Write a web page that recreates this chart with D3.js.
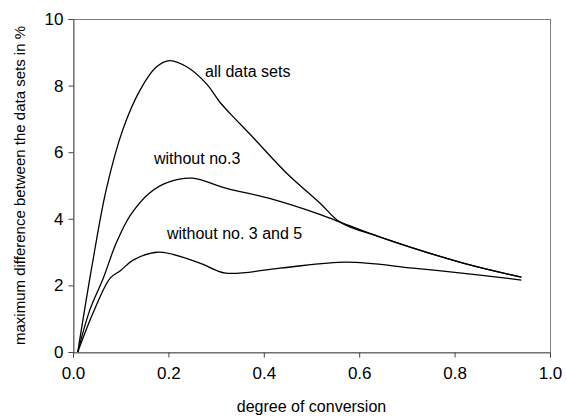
<!DOCTYPE html>
<html>
<head>
<meta charset="utf-8">
<script src="https://cdn.jsdelivr.net/npm/d3@7"></script>
<style>
  body { margin: 0; background: #fff; }
  text { font-family: "Liberation Sans", Arial, sans-serif; fill: #000; }
  .frame { stroke: #808080; fill: none; }
  .curve { fill: none; stroke: #000; stroke-width: 1.3; }
</style>
</head>
<body>
<script>
//chart values
var xAll = [0.01, 0.04, 0.07, 0.105, 0.14, 0.174, 0.203, 0.24, 0.28, 0.308, 0.33, 0.377, 0.448, 0.518, 0.56, 0.644, 0.818, 0.94];
var yAll = [0, 2.6, 4.9, 6.7, 7.85, 8.55, 8.75, 8.55, 8.05, 7.5, 7.15, 6.45, 5.37, 4.47, 3.9, 3.45, 2.67, 2.25];

var xNo3 = [0.01, 0.035, 0.063, 0.09, 0.12, 0.16, 0.2, 0.25, 0.32, 0.41, 0.52, 0.56, 0.644, 0.818, 0.94];
var yNo3 = [0, 1.25, 2.2, 3.25, 4.1, 4.77, 5.1, 5.22, 4.92, 4.62, 4.12, 3.9, 3.45, 2.67, 2.25];

var xNo35 = [0.01, 0.042, 0.078, 0.1, 0.126, 0.18, 0.266, 0.32, 0.434, 0.574, 0.713, 0.853, 0.94];
var yNo35 = [0, 1.17, 2.22, 2.45, 2.76, 3.0, 2.67, 2.37, 2.52, 2.7, 2.52, 2.31, 2.16];

var xTicks = [0, 0.2, 0.4, 0.6, 0.8, 1.0];
var yTicks = [0, 2, 4, 6, 8, 10];

var seriesLabels = ["all data sets", "without no.3", "without no. 3 and 5"];

//frame dimensions
var width = 566,
    height = 417;

var svg = d3.select("body")
    .append("svg")
    .attr("width", width)
    .attr("height", height);

var plotLeft = 73, plotRight = 550, plotTop = 19, plotBottom = 352;

var x = d3.scaleLinear().domain([0, 1]).range([plotLeft, plotRight]);
var y = d3.scaleLinear().domain([0, 10]).range([plotBottom, plotTop]);

//box round the plot
svg.append("rect")
    .attr("class", "frame")
    .attr("x", plotLeft + 0.5)
    .attr("y", plotTop + 0.5)
    .attr("width", plotRight - plotLeft)
    .attr("height", plotBottom - plotTop);

//x axis
var xAxis = svg.append("g")
    .attr("transform", "translate(0," + (plotBottom + 0.5) + ")")
    .call(d3.axisBottom(x).tickValues(xTicks).tickFormat(d3.format(".1f")).tickSize(5).tickPadding(9));

//y axis
var yAxis = svg.append("g")
    .attr("transform", "translate(" + (plotLeft + 0.5) + ",0)")
    .call(d3.axisLeft(y).tickValues(yTicks).tickFormat(d3.format("d")).tickSize(5).tickPadding(5));

[xAxis, yAxis].forEach(function(g){
    g.select(".domain").attr("stroke", "#666");
    g.selectAll(".tick line").attr("stroke", "#444");
    g.selectAll(".tick text")
        .style("font-size", "17px")
        .style("font-family", "'Liberation Sans', Arial, sans-serif")
        .attr("fill", "#000");
});

//axis titles
svg.append("text")
    .attr("x", (plotLeft + plotRight) / 2)
    .attr("y", 412)
    .attr("text-anchor", "middle")
    .style("font-size", "16px")
    .text("degree of conversion");

svg.append("text")
    .attr("transform", "translate(25," + ((plotTop + plotBottom) / 2) + ") rotate(-90)")
    .attr("text-anchor", "middle")
    .style("font-size", "15px")
    .text("maximum difference between the data sets in %");

//curves
var line = d3.line()
    .x(function(d){ return x(d[0]); })
    .y(function(d){ return y(d[1]); })
    .curve(d3.curveCatmullRom.alpha(0.5));

var series = [
    d3.zip(xAll, yAll),
    d3.zip(xNo3, yNo3),
    d3.zip(xNo35, yNo35)
];

svg.selectAll(".curve")
    .data(series)
    .enter()
    .append("path")
    .attr("class", "curve")
    .attr("d", line);

//curve labels
var labelPos = [[205, 77], [154, 164], [167, 239]];

svg.selectAll(".lbl")
    .data(seriesLabels)
    .enter()
    .append("text")
    .attr("class", "lbl")
    .attr("x", function(d, i){ return labelPos[i][0]; })
    .attr("y", function(d, i){ return labelPos[i][1]; })
    .style("font-size", "16px")
    .text(function(d){ return d; });
</script>
</body>
</html>
